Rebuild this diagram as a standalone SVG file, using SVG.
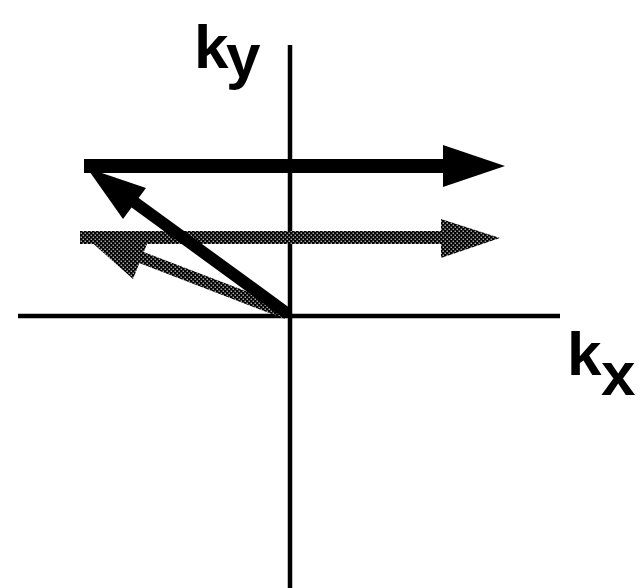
<svg xmlns="http://www.w3.org/2000/svg" width="640" height="588" viewBox="0 0 640 588">
<defs>
<pattern id="dots" patternUnits="userSpaceOnUse" width="4" height="4">
<rect width="4" height="4" fill="#000"/>
<rect x="0.6" y="0.6" width="1.2" height="1.2" fill="#fff"/>
<rect x="2.6" y="2.6" width="1.2" height="1.2" fill="#fff"/>
</pattern>
</defs>
<style>
.lbl{font-family:"Liberation Sans",Arial,sans-serif;font-weight:bold;font-size:62px;fill:#000}
.axis{stroke:#000;stroke-width:4.5;fill:none}
</style>
<rect width="640" height="588" fill="#fff"/>
<g id="connectors">
<g id="axes">
<line class="axis" x1="290" y1="45" x2="290" y2="588"/>
<line class="axis" x1="18" y1="316" x2="560" y2="316"/>
</g>
<g id="gray-arrows">
<rect x="80" y="231" width="364" height="13" fill="url(#dots)"/>
<polygon points="441,219 500,238 441,258" fill="url(#dots)"/>
<line x1="286" y1="313" x2="140" y2="257" stroke="url(#dots)" stroke-width="12"/>
<polygon points="80,232 133,279 151,234" fill="url(#dots)"/>
</g>
<g id="black-arrows">
<rect x="84" y="159" width="362" height="14" fill="#000"/>
<polygon points="443,145 505,166 443,187" fill="#000"/>
<line x1="288" y1="314" x2="130" y2="199" stroke="#000" stroke-width="12"/>
<polygon points="87,168 146,188 123,219" fill="#000"/>
</g>
</g>
<g id="label-ky">
<text class="lbl" x="194" y="68">k</text>
<text class="lbl" x="226" y="77">y</text>
</g>
<g id="label-kx">
<text class="lbl" x="567" y="375">k</text>
<text class="lbl" x="601" y="395">x</text>
</g>
</svg>
